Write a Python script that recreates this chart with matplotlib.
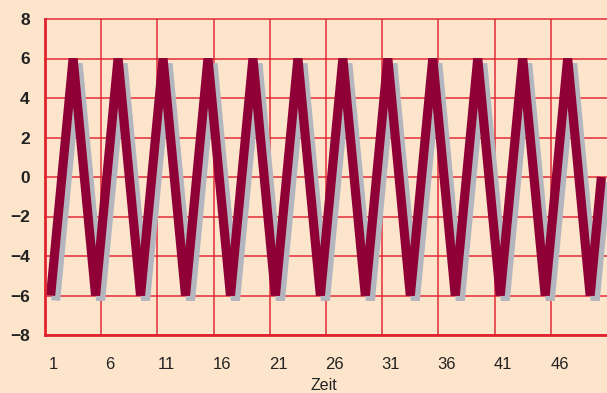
import numpy as np
import matplotlib.pyplot as plt
import matplotlib.transforms as mtransforms

# zigzag series, one value per time step
zeit = list(range(1, 51))
werte = [-6, 0, 6, 0] * 12 + [-6, 0]
tick_pos = [1, 6, 11, 16, 21, 26, 31, 36, 41, 46]
y_ticks = [-8, -6, -4, -2, 0, 2, 4, 6, 8]

bg = '#fde5cc'
rot = '#e0222f'

plt.rcParams['font.family'] = ['Liberation Sans', 'DejaVu Sans']

fig = plt.figure(figsize=(6.07, 3.93), dpi=100, facecolor=bg)
ax = fig.add_axes([45 / 607, 1 - 335 / 393, 1 - 45 / 607, (335 - 19) / 393])
ax.set_facecolor(bg)

# grey drop shadow, shifted right and down
shift = mtransforms.ScaledTranslation(5 / 100, -5 / 100, fig.dpi_scale_trans)
ax.plot(zeit, werte, color='#b3b5bf', lw=6.6, solid_joinstyle='bevel',
        solid_capstyle='butt', transform=ax.transData + shift, zorder=3)
ax.plot(zeit, werte, color='#8e0036', lw=6.6, solid_joinstyle='bevel',
        solid_capstyle='butt', zorder=4)

ax.set_xlim(0.5, 50.5)
ax.set_ylim(-8, 8)

ax.set_yticks(y_ticks)
ax.set_yticklabels(['\u22128', '\u22126', '\u22124', '\u22122', '0', '2', '4', '6', '8'],
                   fontsize=12.5, fontweight='bold', color='#222222')
ax.set_xticks(tick_pos)
ax.set_xticklabels([str(t) for t in tick_pos], fontsize=12, color='#222222')
ax.set_xticks(np.arange(5.5, 50, 5), minor=True)
ax.tick_params(axis='both', which='both', length=0)
ax.tick_params(axis='y', pad=11)
ax.tick_params(axis='x', pad=16)

# nudge the time labels a little to the right
nudge = mtransforms.ScaledTranslation(3 / 100, 0, fig.dpi_scale_trans)
for lbl in ax.get_xticklabels():
    lbl.set_transform(lbl.get_transform() + nudge)

ax.grid(axis='y', which='major', color=rot, lw=1.3, alpha=0.8, zorder=1)
ax.grid(axis='x', which='minor', color=rot, lw=1.3, alpha=0.8, zorder=1)
for gl in ax.get_ygridlines():
    gl.set_clip_on(False)
ax.set_axisbelow(True)

for side in ['top', 'right']:
    ax.spines[side].set_visible(False)
for side in ['left', 'bottom']:
    ax.spines[side].set_color(rot)
    ax.spines[side].set_linewidth(2)
    ax.spines[side].set_zorder(5)

fig.text(324 / 607, 1 - 385 / 393, 'Zeit', fontsize=11.5, color='#222222',
         ha='center', va='center')

fig.savefig('out.png', dpi=100, facecolor=bg)
